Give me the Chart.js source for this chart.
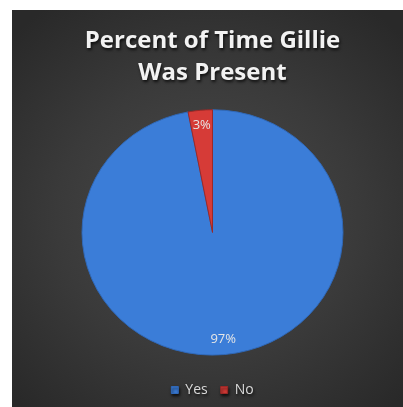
<!DOCTYPE html>
<html>
<head>
<meta charset="utf-8">
<script src="https://cdn.jsdelivr.net/npm/chart.js@4"></script>
<style>
  html, body { margin: 0; padding: 0; background: #ffffff; }
  #frame {
    position: absolute; left: 12px; top: 10px; width: 391px; height: 397px;
    background: radial-gradient(ellipse 70% 65% at 50% 52%, #4b4b4b 0%, #3a3a3a 55%, #292929 100%);
  }
  canvas { display: block; }
</style>
</head>
<body>
<div id="frame"><canvas id="c" width="391" height="397"></canvas></div>
<script>
const categories = ['Yes', 'No'];
const percentValues = [97, 3];
const sliceColors = ['#3b7dd8', '#d63b37'];
const sliceBorders = ['#2f68b8', '#9c2826'];
const titleLines = ['Percent of Time Gillie', 'Was Present'];

// the pie is drawn slightly flattened vertically
const yScale = 0.94;

const flattenPie = {
  id: 'flattenPie',
  beforeDraw(chart) {
    const ctx = chart.ctx;
    ctx.save();
    ctx.shadowColor = 'rgba(0,0,0,0.75)';
    ctx.shadowBlur = 3;
    ctx.shadowOffsetX = 1;
    ctx.shadowOffsetY = 2;
  },
  beforeDatasetsDraw(chart) {
    const ctx = chart.ctx;
    ctx.restore();
    const arc = chart.getDatasetMeta(0).data[0];
    ctx.save();
    ctx.translate(arc.x, arc.y);
    ctx.scale(1, yScale);
    ctx.translate(-arc.x, -arc.y);
  },
  afterDatasetsDraw(chart) {
    const ctx = chart.ctx;
    ctx.restore();
    // percentage labels inside each slice
    const meta = chart.getDatasetMeta(0);
    ctx.save();
    ctx.font = '13px "Open Sans", sans-serif';
    ctx.fillStyle = '#e6e6e6';
    ctx.textAlign = 'center';
    ctx.textBaseline = 'middle';
    meta.data.forEach((arc, i) => {
      const mid = (arc.startAngle + arc.endAngle) / 2;
      const d = arc.outerRadius * 0.875;
      const x = arc.x + Math.cos(mid) * d;
      const y = arc.y + Math.sin(mid) * d * yScale;
      ctx.fillText(percentValues[i] + '%', x, y);
    });
    ctx.restore();
  }
};

new Chart(document.getElementById('c'), {
  type: 'pie',
  data: {
    labels: categories,
    datasets: [{
      data: percentValues,
      backgroundColor: sliceColors,
      borderColor: sliceBorders,
      borderWidth: 1,
      radius: 130.5
    }]
  },
  options: {
    responsive: false,
    animation: false,
    rotation: 0,
    layout: { padding: { left: 10, right: 0, top: 0, bottom: 0 } },
    plugins: {
      title: {
        display: true,
        text: titleLines,
        color: '#f2f2f2',
        font: { family: '"Open Sans", sans-serif', size: 24, weight: 'bold', lineHeight: 1.33 },
        padding: { top: 15, bottom: 6 }
      },
      legend: {
        position: 'bottom',
        labels: {
          color: '#d9d9d9',
          font: { family: '"Open Sans", sans-serif', size: 14 },
          usePointStyle: true,
          pointStyle: 'rect',
          boxWidth: 7,
          boxHeight: 7,
          padding: 13
        }
      },
      tooltip: { enabled: false }
    }
  },
  plugins: [flattenPie]
});
</script>
</body>
</html>
